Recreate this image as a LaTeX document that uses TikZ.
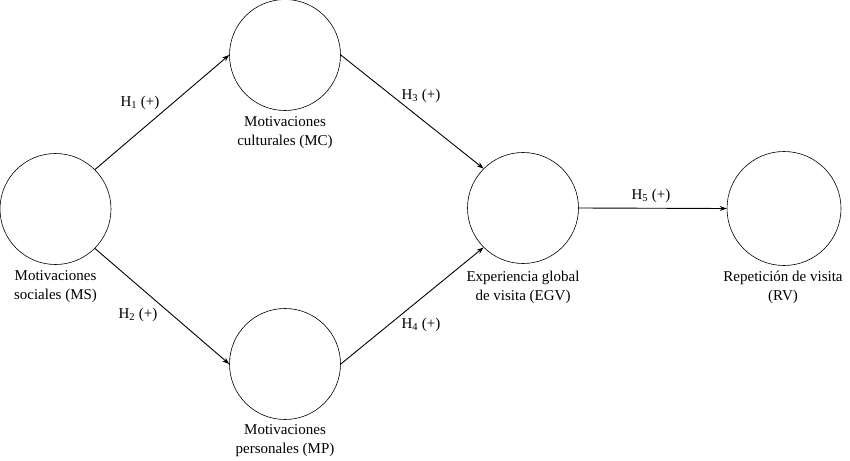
\documentclass[tikz,border=0pt]{standalone}
\usepackage{fontspec}
\setmainfont{Liberation Serif}
\usetikzlibrary{arrows.meta}
\begin{document}
\begin{tikzpicture}[x=1pt,y=-1pt,
  latent/.style={circle,draw,line width=0.6pt,minimum size=111pt,inner sep=0pt},
  lbl/.style={align=center,font=\fontsize{15}{19}\selectfont},
  elbl/.style={font=\fontsize{15}{19}\selectfont},
  path/.style={line width=0.9pt,-{Stealth[length=7pt,width=5pt]}}]
\useasboundingbox (0,0) rectangle (850,460);
\node[latent] (MS) at (55.5,209) {};
\node[latent] (MC) at (285,55) {};
\node[latent] (MP) at (285,364) {};
\node[latent] (EGV) at (523,208) {};
\node[latent,minimum size=114pt] (RV) at (784,208.5) {};
\node[lbl] (tMS) at (55.5,287) {Motivaciones\\sociales (MS)};
\node[lbl] (tMC) at (285,133) {Motivaciones\\culturales (MC)};
\node[lbl] (tMP) at (285,441) {Motivaciones\\personales (MP)};
\node[lbl] (tEGV) at (523,287) {Experiencia global\\de visita (EGV)};
\node[lbl] (tRV) at (783,287) {Repetición de visita\\(RV)};
\draw[path] (MS.45) -- (MC.180);
\draw[path] (MS.-45) -- (MP.180);
\draw[path] (MC.0) -- (EGV.135);
\draw[path] (MP.0) -- (EGV.-135);
\draw[path] (EGV.0) -- (RV.180);
\node[elbl] (h1) at (140,103) {H\textsubscript{1} (+)};
\node[elbl] (h2) at (138,315) {H\textsubscript{2} (+)};
\node[elbl] (h3) at (421,96) {H\textsubscript{3} (+)};
\node[elbl] (h4) at (421,325) {H\textsubscript{4} (+)};
\node[elbl] (h5) at (651,196) {H\textsubscript{5} (+)};
\end{tikzpicture}
\end{document}
